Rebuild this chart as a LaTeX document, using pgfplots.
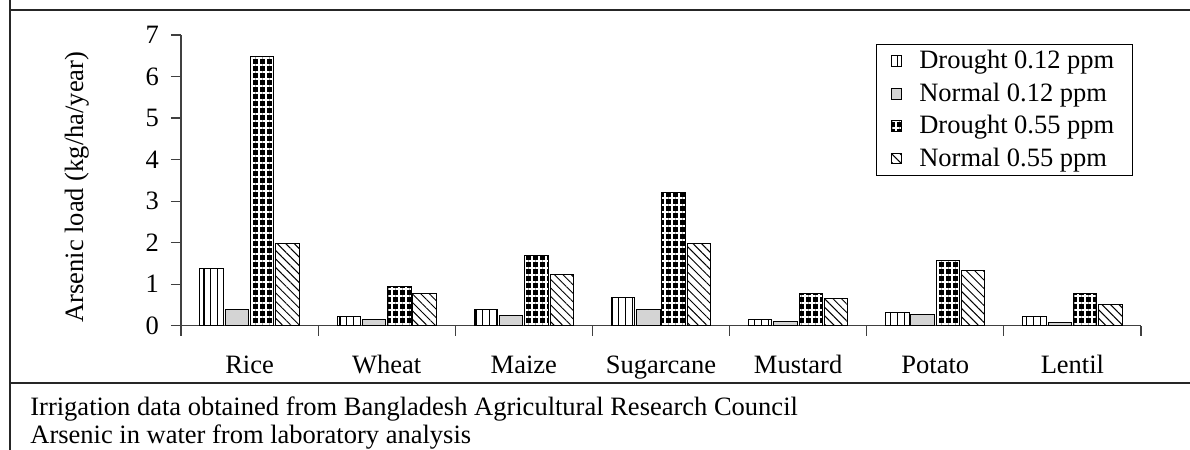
\documentclass[border=0pt]{standalone}
\usepackage{fontspec}
\setmainfont{Liberation Serif}
\usepackage{pgfplots}
\pgfplotsset{compat=1.18}
\usetikzlibrary{patterns.meta}
\newcommand\chartfont{\fontsize{13.25}{15.5}\selectfont}
\definecolor{lgray}{RGB}{212,212,212}
\begin{document}
\begin{tikzpicture}
\useasboundingbox (-90.5pt,-62.15pt) rectangle (504.5pt,162.85pt);
\begin{axis}[
  at={(0pt,0pt)}, anchor=south west,
  width=480pt, height=145.35pt, scale only axis,
  xmin=0.5, xmax=7.5, ymin=0, ymax=7,
  ytick={0,...,7},
  xtick={1,...,7},
  xticklabels={Rice,Wheat,Maize,Sugarcane,Mustard,Potato,Lentil},
  minor xtick={0.5,1.5,...,7.5},
  axis x line=bottom, axis y line=left,
  axis line style={-, black!75, line width=0.6pt},
  tick style={black!75, line width=0.6pt},
  tick align=outside,
  major tick length=5pt,
  minor tick length=5pt,
  major x tick style={draw=none},
  /pgf/number format/assume math mode=true,
  tick label style={font=\chartfont},
  xticklabel style={yshift=-6pt, text height=9.2pt, text depth=2.9pt},
  yticklabel style={xshift=-2.5pt},
  ylabel={Arsenic load (kg/ha/year)},
  ylabel style={font=\chartfont, at={(axis description cs:-0.1086,0.477)}, anchor=center},
  ybar=0.9pt, bar width=11.75pt,
  legend cell align=left,
  legend image code/.code={\draw[#1, line width=0.5pt] (0pt,-2.7pt) rectangle (5.4pt,2.7pt);},
  legend style={at={(axis description cs:1,1)}, anchor=north east, xshift=-4pt, yshift=-4.5pt,
    draw=black, line width=0.6pt, font=\chartfont, inner xsep=7pt, inner ysep=1pt,
    column sep=6.5pt, row sep=1.5pt},
]
\addplot[draw=black, line width=0.5pt, fill=white,
  postaction={pattern={Lines[angle=90,distance=3.4pt,line width=0.55pt]}, pattern color=black}]
  coordinates {(1,1.37) (2,0.23) (3,0.40) (4,0.69) (5,0.15) (6,0.31) (7,0.23)};
\addplot[draw=black, line width=0.5pt, fill=lgray]
  coordinates {(1,0.38) (2,0.14) (3,0.25) (4,0.40) (5,0.11) (6,0.26) (7,0.08)};
\addplot[draw=black, line width=0.5pt, fill=black,
  postaction={pattern={Hatch[angle=0,distance=3.5pt,line width=0.9pt]}, pattern color=white}]
  coordinates {(1,6.48) (2,0.95) (3,1.68) (4,3.21) (5,0.78) (6,1.57) (7,0.77)};
\addplot[draw=black, line width=0.5pt, fill=white,
  postaction={pattern={Lines[angle=-45,distance=3pt,line width=0.5pt]}, pattern color=black}]
  coordinates {(1,1.98) (2,0.78) (3,1.24) (4,1.97) (5,0.66) (6,1.33) (7,0.50)};
\legend{Drought 0.12 ppm, Normal 0.12 ppm, Drought 0.55 ppm, Normal 0.55 ppm}
\end{axis}
\draw[line width=0.75pt, black!85] (-85.5pt,162.85pt) -- (-85.5pt,-62.15pt);
\draw[line width=0.75pt, black!85] (-85.5pt,157.85pt) -- (504.5pt,157.85pt);
\draw[line width=0.75pt, black!85] (-85.5pt,-28.65pt) -- (504.5pt,-28.65pt);
\node[anchor=base west, font=\chartfont, inner sep=0pt] at (-75.5pt,-44.65pt) {Irrigation data obtained from Bangladesh Agricultural Research Council};
\node[anchor=base west, font=\chartfont, inner sep=0pt] at (-75.5pt,-58.65pt) {Arsenic in water from laboratory analysis};
\end{tikzpicture}
\end{document}
